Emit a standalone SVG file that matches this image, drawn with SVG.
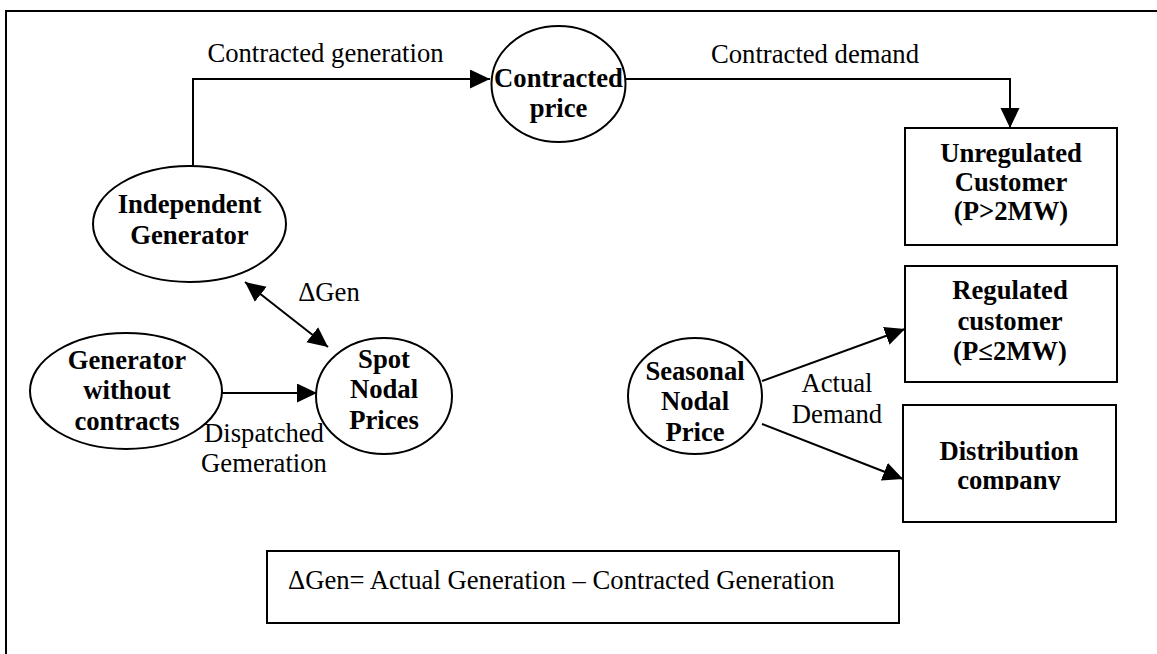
<svg xmlns="http://www.w3.org/2000/svg" width="1157" height="654" viewBox="0 0 1157 654">
  <style>
    .shape { fill: #fff; stroke: #000; stroke-width: 2; }
    .line { fill: none; stroke: #000; stroke-width: 2; }
    .bold { font-family: "Liberation Serif", "Times New Roman", serif; font-size: 26.67px; font-weight: bold; text-anchor: middle; fill: #000; }
    .label { font-family: "Liberation Serif", "Times New Roman", serif; font-size: 26.67px; text-anchor: middle; fill: #000; }
  </style>
  <defs>
    <marker id="arrow" markerUnits="userSpaceOnUse" markerWidth="21" markerHeight="20" refX="20" refY="9.5" orient="auto-start-reverse">
      <path d="M0,0 L20,9.5 L0,19 Z" fill="#000"/>
    </marker>
    <clipPath id="clipDist">
      <rect x="903" y="405" width="214" height="85"/>
    </clipPath>
  </defs>
  <rect x="0" y="0" width="1157" height="654" fill="#fff"/>
  <path d="M6,654 V11 H1157" class="line"/>

  <g id="connectors">
    <path d="M193,166 V79 H490" class="line" marker-end="url(#arrow)"/>
    <path d="M626,79 H1010 V128" class="line" marker-end="url(#arrow)"/>
    <path d="M245,282 L328,347" class="line" marker-start="url(#arrow)" marker-end="url(#arrow)"/>
    <path d="M222,393 H317" class="line" marker-end="url(#arrow)"/>
    <path d="M762,381 L905,329" class="line" marker-end="url(#arrow)"/>
    <path d="M762,424 L903,479" class="line" marker-end="url(#arrow)"/>
    <text x="325.5" y="62" class="label">Contracted generation</text>
    <text x="815" y="63" class="label">Contracted demand</text>
    <text x="329" y="301" class="label">ΔGen</text>
    <text x="264" y="442" class="label">Dispatched</text>
    <text x="264" y="472" class="label">Gemeration</text>
    <text x="837" y="392" class="label">Actual</text>
    <text x="837" y="423" class="label">Demand</text>
  </g>

  <g id="contracted-price">
    <ellipse cx="558.5" cy="84" rx="67" ry="58" class="shape"/>
    <text x="558.5" y="87" class="bold">Contracted</text>
    <text x="558.5" y="117" class="bold">price</text>
  </g>

  <g id="unregulated-customer">
    <rect x="905" y="128" width="212" height="117" class="shape"/>
    <text x="1011" y="162" class="bold">Unregulated</text>
    <text x="1011" y="191" class="bold">Customer</text>
    <text x="1011" y="220" class="bold">(P&gt;2MW)</text>
  </g>

  <g id="independent-generator">
    <ellipse cx="189.5" cy="224" rx="96.5" ry="58" class="shape"/>
    <text x="189.5" y="213" class="bold">Independent</text>
    <text x="189.5" y="244" class="bold">Generator</text>
  </g>

  <g id="generator-without-contracts">
    <ellipse cx="126" cy="391" rx="96" ry="58" class="shape"/>
    <text x="127" y="369" class="bold">Generator</text>
    <text x="127" y="399" class="bold">without</text>
    <text x="127" y="430" class="bold">contracts</text>
  </g>

  <g id="spot-nodal-prices">
    <ellipse cx="384" cy="396" rx="68" ry="58" class="shape"/>
    <text x="384" y="368" class="bold">Spot</text>
    <text x="384" y="398" class="bold">Nodal</text>
    <text x="384" y="429" class="bold">Prices</text>
  </g>

  <g id="seasonal-nodal-price">
    <ellipse cx="695" cy="396" rx="67" ry="58" class="shape"/>
    <text x="695" y="380" class="bold">Seasonal</text>
    <text x="695" y="410" class="bold">Nodal</text>
    <text x="695" y="441" class="bold">Price</text>
  </g>

  <g id="regulated-customer">
    <rect x="905" y="266" width="212" height="116" class="shape"/>
    <text x="1010" y="299" class="bold">Regulated</text>
    <text x="1010" y="330" class="bold">customer</text>
    <text x="1010" y="360" class="bold">(P≤2MW)</text>
  </g>

  <g id="distribution-company">
    <rect x="903" y="405" width="213" height="117" class="shape"/>
    <g clip-path="url(#clipDist)">
      <text x="1009" y="460" class="bold">Distribution</text>
      <text x="1009" y="489" class="bold">company</text>
    </g>
  </g>

  <g id="legend">
    <rect x="267" y="551" width="632" height="72" class="shape"/>
    <text x="288" y="589" class="label" style="text-anchor:start">ΔGen= Actual Generation – Contracted Generation</text>
  </g>
</svg>
